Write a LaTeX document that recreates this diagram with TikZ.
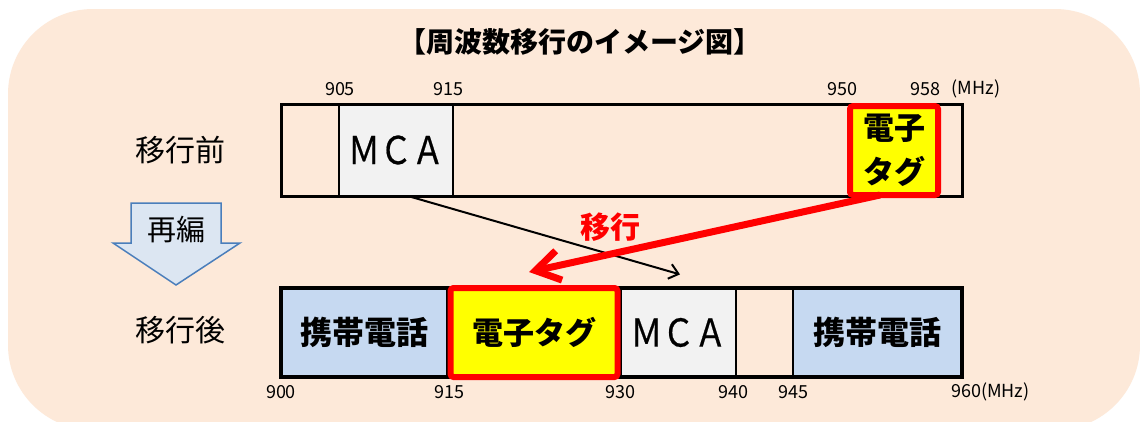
\documentclass[tikz,border=0pt]{standalone}
\usepackage{fontspec}
\setmainfont{Noto Sans CJK JP}
\usepackage[HTML]{xcolor}
\usetikzlibrary{arrows.meta}

\definecolor{bgpeach}{HTML}{FDE9D9}
\definecolor{phoneblue}{HTML}{C6D9F1}
\definecolor{mcagray}{HTML}{F2F2F2}
\definecolor{arrowfill}{HTML}{DCE6F2}
\definecolor{arrowline}{HTML}{4A7EBB}

\newcommand{\mcalabel}{\scalebox{1}[1.2]{ＭＣＡ}}

\tikzset{
  cell/.style={draw=black, line width=1.2pt, minimum height=89pt, inner sep=0pt,
    font=\fontsize{32}{36}\selectfont\bfseries},
  mcatext/.style={font=\fontsize{32}{36}\selectfont\addfontfeature{FakeBold=0.6}},
  tagbox/.style={draw=red, line width=6pt, fill=yellow, rounded corners=3pt, inner sep=0pt,
    font=\fontsize{31}{44}\selectfont\bfseries},
  freq/.style={font=\fontsize{18}{20}\selectfont, inner sep=0pt},
  side/.style={font=\fontsize{30}{34}\selectfont, inner sep=0pt},
}

\begin{document}
\begin{tikzpicture}[x=1pt,y=-1pt]
\useasboundingbox (0,0) rectangle (1140,421);
\fill[white] (0,0) rectangle (1140,421);
\clip (0,0) rectangle (1140,421);
% rounded background
\fill[bgpeach, rounded corners=85pt] (8,9) rectangle (1140,430);
% title
\node[font=\fontsize{28}{32}\selectfont\bfseries] (title) at (580,42) {【周波数移行のイメージ図】};

% before: top band
\node[cell, fill=mcagray, minimum width=114pt, minimum height=92pt, mcatext] (mcaa) at (396,150) {\mcalabel};
\draw[line width=3pt] (281,104) rectangle (962,196);
\node[tagbox, minimum width=88pt, minimum height=89pt, align=center] (taga) at (894,150.5) {電子\\タグ};
\node[freq] (fa905) at (340,89) {905};
\node[freq] (fa915) at (448,89) {915};
\node[freq] (fa950) at (842,89) {950};
\node[freq] (fa958) at (925,89) {958};
\node[freq] (famhz) at (976,89) {(MHz)};
\node[side] (before) at (180,150) {移行前};

% after: bottom band
\node[cell, fill=phoneblue, minimum width=166pt] (phonea) at (364,332.5) {携帯電話};
\node[cell, fill=mcagray, minimum width=115pt, mcatext] (mcab) at (678.5,332.5) {\mcalabel};
\node[cell, minimum width=57pt] (gapb) at (764.5,332.5) {};
\node[cell, fill=phoneblue, minimum width=169pt] (phoneb) at (877.5,332.5) {携帯電話};
\draw[line width=4pt] (281,288) rectangle (962,377);
\node[tagbox, minimum width=167pt, minimum height=89pt] (tagb) at (534,332.5) {電子タグ};
\node[freq] (fb900) at (281,392) {900};
\node[freq] (fb915) at (449,392) {915};
\node[freq] (fb930) at (620,392) {930};
\node[freq] (fb940) at (733,392) {940};
\node[freq] (fb945) at (793,392) {945};
\node[freq, anchor=west] (fb960) at (951,392) {960(MHz)};
\node[side] (after) at (180,330) {移行後};

% block arrow
\filldraw[fill=arrowfill, draw=arrowline, line width=1.5pt, line join=miter]
  (131,203) -- (221,203) -- (221,243) -- (240,243) -- (176,285) -- (113,243) -- (131,243) -- cycle;
\node[side, font=\fontsize{29}{32}\selectfont] (reorg) at (176,230) {再編};

% MCA move
\draw[line width=2pt, -{Straight Barb[length=9pt,width=15pt]}]
  ([xshift=14pt]mcaa.south) -- ([xshift=1.5pt,yshift=13pt]mcab.north);
% tag move
\draw[red, line width=7pt, -{Straight Barb[length=24pt,width=30pt]}]
  ([xshift=-14pt,yshift=3pt]taga.south) -- ([xshift=-5pt,yshift=13pt]tagb.north);
\node[text=red, font=\fontsize{30}{34}\selectfont\bfseries] (movelbl) at (610,227) {移行};
\end{tikzpicture}
\end{document}
